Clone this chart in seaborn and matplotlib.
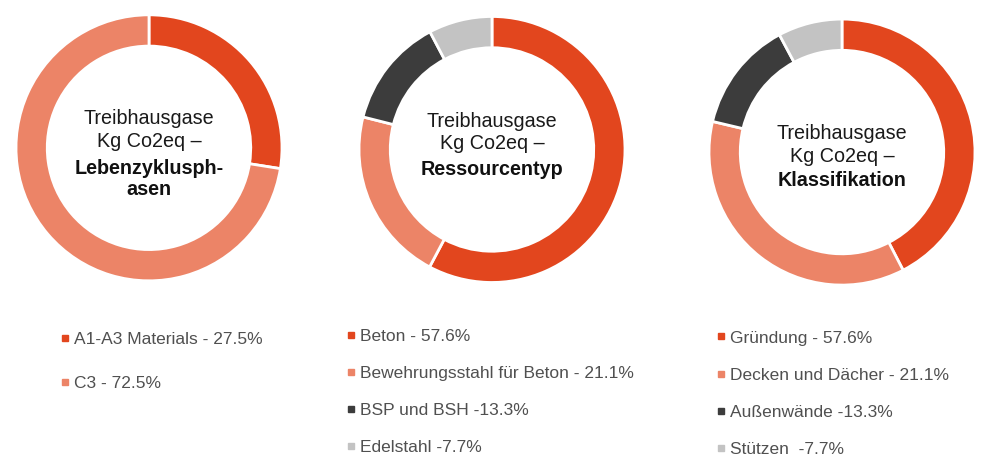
import matplotlib
matplotlib.use("Agg")
import matplotlib.pyplot as plt
import seaborn as sns
from matplotlib.lines import Line2D

# ==========================================================
# DATA
# ==========================================================

phase_labels = ["A1-A3 Materials - 27.5%", "C3 - 72.5%"]
phase_values = [27.5, 72.5]

resource_labels = ["Beton - 57.6%", "Bewehrungsstahl für Beton - 21.1%",
                   "BSP und BSH -13.3%", "Edelstahl -7.7%"]
resource_values = [57.6, 21.1, 13.3, 7.7]

class_labels = ["Gründung - 57.6%", "Decken und Dächer - 21.1%",
                "Außenwände -13.3%", "Stützen  -7.7%"]
# slice sizes as drawn in the picture (legend text differs)
class_values = [42.4, 36.3, 13.5, 7.8]

titles = ["Lebenzyklusph-\nasen", "Ressourcentyp", "Klassifikation"]

# ==========================================================
# STYLE
# ==========================================================

sns.set_theme(style="white")
plt.rcParams["font.family"] = ["Liberation Sans", "DejaVu Sans"]

palette = ["#E2461E", "#EC8467", "#3C3C3C", "#C3C3C3"]

fig = plt.figure(figsize=(10, 4.72), dpi=100)

# donut axes: [left, bottom, width, height] in figure fractions
donut_boxes = [
    [0.016, 0.405, 0.266, 0.5636],
    [0.359, 0.4015, 0.266, 0.5636],
    [0.709, 0.396, 0.266, 0.5636],
]

# vertical centre of the regular lines and of the bold title (data units)
text_y = [(0.133, -0.233), (0.128, -0.154), (0.056, -0.21)]

legend_anchors = [(0.060, 0.297), (0.346, 0.304), (0.716, 0.300)]
legend_spacing = [1.68, 1.27, 1.27]

datasets = [
    (phase_values, phase_labels),
    (resource_values, resource_labels),
    (class_values, class_labels),
]

for i, (values, labels) in enumerate(datasets):
    ax = fig.add_axes(donut_boxes[i])
    colors = palette[:len(values)]
    ax.pie(
        values,
        colors=colors,
        startangle=90,
        counterclock=False,
        radius=1.0,
        wedgeprops=dict(width=0.235, edgecolor="white", linewidth=2),
    )
    ax.set_xlim(-1.0, 1.0)
    ax.set_ylim(-1.0, 1.0)
    ax.set_aspect("equal")

    # center text: regular lines + bold title
    ax.text(0, text_y[i][0], "Treibhausgase\nKg Co2eq –", ha="center",
            va="center", fontsize=14.2, color="#1a1a1a", linespacing=1.25)
    ax.text(0, text_y[i][1], titles[i], ha="center", va="center",
            fontsize=14.2, color="#111111", fontweight="bold",
            linespacing=1.1)

    # legend below the donut
    handles = [
        Line2D([0], [0], marker="s", linestyle="none", markersize=5,
               markerfacecolor=c, markeredgecolor=c)
        for c in colors
    ]
    fig.legend(
        handles, labels,
        loc="upper left",
        bbox_to_anchor=legend_anchors[i],
        frameon=False,
        fontsize=12.5,
        labelcolor="#505050",
        handlelength=0.6,
        handletextpad=0.2,
        labelspacing=legend_spacing[i],
        borderpad=0,
        borderaxespad=0,
    )

fig.savefig("out.png", dpi=100, facecolor="white")
